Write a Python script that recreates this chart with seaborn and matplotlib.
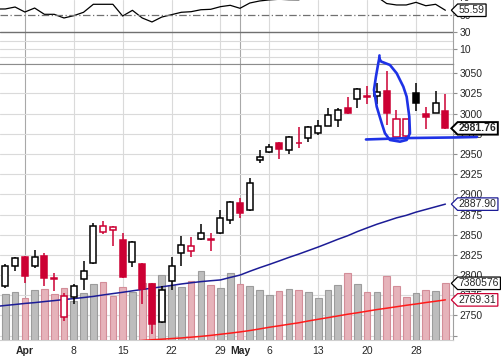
import numpy as np
import pandas as pd
import matplotlib
matplotlib.use("Agg")
import matplotlib.pyplot as plt
from matplotlib.path import Path
import seaborn as sns

# trading days on screen (Memorial Day closed)
dates = pd.bdate_range("2019-03-28", "2019-05-31").drop(pd.Timestamp("2019-05-27"))

opens = [2786.5, 2811.3, 2822.5, 2810.9, 2823.3, 2795.8, 2748.1, 2772.9, 2794.8, 2814.6,
         2853.0, 2856.3, 2843.5, 2816.6, 2813.4, 2789.0, 2741.6, 2792.7, 2827.0, 2829.9,
         2844.4, 2844.8, 2851.8, 2868.3, 2889.0, 2880.7, 2942.0, 2951.9, 2963.3, 2954.6,
         2963.9, 2969.5, 2975.7, 2984.3, 2991.8, 3007.0, 3018.5, 3021.5, 3021.9, 3028.1,
         2970.7, 2972.7, 3025.2, 2999.6, 3000.5, 3003.3]
highs = [2813.8, 2822.5, 2823.7, 2831.5, 2827.0, 2802.6, 2777.9, 2788.4, 2817.5, 2864.6,
         2867.0, 2860.2, 2851.8, 2842.3, 2815.0, 2790.2, 2786.5, 2822.8, 2848.5, 2846.9,
         2863.3, 2851.8, 2880.7, 2891.8, 2895.9, 2919.9, 2955.0, 2962.2, 2964.9, 2972.6,
         2983.5, 2985.3, 2992.2, 3007.4, 3006.7, 3020.6, 3031.2, 3034.6, 3037.6, 3052.9,
         3004.5, 2993.0, 3038.4, 3007.6, 3028.1, 3024.4]
lows = [2784.0, 2805.5, 2789.9, 2808.5, 2786.9, 2780.3, 2742.6, 2763.9, 2781.0, 2813.2,
        2850.6, 2836.4, 2796.8, 2810.4, 2764.2, 2727.1, 2740.7, 2781.2, 2811.7, 2822.8,
        2842.9, 2830.3, 2850.9, 2863.0, 2871.1, 2880.0, 2939.3, 2950.7, 2943.8, 2949.4,
        2957.8, 2965.3, 2973.9, 2984.1, 2983.9, 2999.0, 3006.6, 3011.6, 3011.6, 2985.9,
        2970.5, 2970.5, 3003.7, 2981.0, 3000.2, 2980.5]
closes = [2811.3, 2820.8, 2798.5, 2822.1, 2796.1, 2795.2, 2774.1, 2785.9, 2805.5, 2861.2,
          2860.8, 2859.4, 2798.0, 2840.7, 2782.8, 2739.8, 2781.2, 2811.7, 2837.3, 2836.3,
          2851.8, 2844.0, 2870.4, 2890.2, 2876.6, 2913.7, 2946.9, 2958.3, 2955.9, 2970.7,
          2963.3, 2983.1, 2984.7, 2998.0, 3004.2, 3000.2, 3030.2, 3020.8, 3027.2, 3000.5,
          2993.0, 2992.8, 3012.8, 2996.2, 3012.8, 2981.76]
prev_close = 2805.0  # close of the day before the first bar

volume = [5990000, 6250000, 5470000, 6510000, 6640000, 5990000, 6770000, 5140000, 6120000, 7290000,
          7550000, 5730000, 6900000, 6250000, 7420000, 7420000, 8460000, 7160000, 6900000, 7680000,
          8980000, 7160000, 6730000, 8680000, 7290000, 7030000, 6510000, 5860000, 6380000, 6640000,
          6510000, 6250000, 5470000, 6510000, 7120000, 8680000, 7250000, 6210000, 6250000, 8290000,
          7000000, 5600000, 6080000, 6510000, 6380000, 7380576]

# indicator series start one day before the first visible bar
ma50 = [2761.1, 2762.4, 2763.6, 2764.9, 2765.9, 2767.2, 2768.4, 2769.7, 2770.9, 2772.2, 2773.6,
        2775.4, 2777.1, 2778.7, 2780.5, 2782.2, 2783.8, 2785.5, 2787.2, 2789.0, 2790.5,
        2791.9, 2793.0, 2794.0, 2797.1, 2800.0, 2804.7, 2809.1, 2813.2, 2817.5, 2821.9,
        2826.0, 2830.4, 2834.8, 2839.5, 2844.3, 2848.7, 2853.9, 2858.5, 2863.0, 2866.9,
        2870.9, 2874.0, 2878.0, 2881.3, 2884.6, 2887.90]
ma200 = [2707.0, 2707.8, 2708.6, 2709.4, 2710.2, 2711.0, 2711.8, 2712.6, 2713.4, 2714.2, 2715.0,
         2715.8, 2716.6, 2717.4, 2718.2, 2719.0, 2719.9, 2720.6, 2721.4, 2722.1, 2723.1,
         2724.1, 2725.3, 2726.7, 2728.1, 2729.6, 2731.3, 2733.3, 2735.4, 2737.2, 2739.1,
         2740.9, 2743.2, 2745.3, 2747.3, 2749.4, 2751.5, 2753.3, 2755.3, 2757.3, 2759.0,
         2760.8, 2762.6, 2764.2, 2766.0, 2767.6, 2769.31]
rsi = [57.0, 57.1, 59.4, 53.5, 58.2, 50.8, 50.8, 46.5, 49.2, 53.2, 62.6,
       62.6, 62.6, 48.8, 55.5, 46.5, 41.8, 47.6, 50.4, 53.2, 53.9,
       56.2, 56.7, 59.8, 61.4, 57.9, 64.1, 66.5, 67.8, 68.5, 68.0,
       67.9, 72.0, 74.0, 76.0, 77.0, 74.0, 77.0, 75.0, 71.4, 63.5,
       61.8, 61.8, 64.9, 60.9, 62.6, 55.59]

# hand drawn marks (bar index, price)
loop_x = [38.26, 38.24, 38.42, 39.33, 40.02, 40.70, 41.04, 41.31, 41.38, 41.04, 40.36,
          39.33, 38.82, 38.49, 37.98, 37.70, 37.90, 38.14, 38.24]
loop_p = [3072.1, 3068.6, 3064.6, 3060.3, 3050.0, 3033.4, 3021.0, 2996.2, 2975.7, 2967.4, 2965.3,
          2967.4, 2975.7, 2988.1, 3008.6, 3029.3, 3045.8, 3062.4, 3068.6]
base_x = [36.88, 41.38, 45.98, 48.23]
base_p = [2968.0, 2969.8, 2970.5, 2971.1]

RED = "#cc0033"
BLUE_MA = "#1c1c96"
RED_MA = "#ff1a1a"
PEN = "#1e32e6"

sns.set_style("white")
plt.rcParams['font.family'] = ['Liberation Sans', 'DejaVu Sans']

x = np.arange(len(closes))
xi = np.arange(-1, len(closes))
o = np.array(opens)
c = np.array(closes)
prev = np.concatenate([[prev_close], c[:-1]])
up_day = c >= prev
edge = np.where(up_day, "black", RED)
face = np.where(c > o, "white", edge)
vol_face = np.where(up_day, "#bdbdbd", "#e6b3ba")
vol_edge = np.where(up_day, "#9c9c9c", "#d38d98")

W, H = 502, 356
fig = plt.figure(figsize=(W / 100, H / 100), dpi=100)
ax_rsi = fig.add_axes([0, (H - 63.5) / H, 453 / W, 63.5 / H])
ax = fig.add_axes([0, (H - 340) / H, 453 / W, 276.5 / H])
ax_vol = ax.twinx()
ax_top = ax.twinx()

# week / month separators
tick_pos, tick_lab, month_start = [], [], []
for i in range(1, len(dates)):
    d, p = dates[i], dates[i - 1]
    if d.month != p.month:
        tick_pos.append(i); tick_lab.append(d.strftime("%b")); month_start.append(True)
    elif d.isocalendar().week != p.isocalendar().week:
        tick_pos.append(i); tick_lab.append(str(d.day)); month_start.append(False)

for a in (ax, ax_rsi):
    for pos, m in zip(tick_pos, month_start):
        a.axvline(pos, color="#a8a8a8" if m else "#dadada", lw=0.8, zorder=0.5)

# RSI panel
sns.lineplot(x=xi, y=rsi, ax=ax_rsi, color="black", lw=0.9)
for lvl in (0, 10, 20):
    ax_rsi.axhline(lvl, color="#dadada", lw=0.8, zorder=0.5)
ax_rsi.axhline(30, color="#707070", lw=1.0)
ax_rsi.axhline(70, color="#707070", lw=1.0)
ax_rsi.axhline(50, color="#707070", lw=0.9, ls=(0, (6, 2, 1, 2)))
ax_rsi.set_ylim(-7.06, 67.65)
ax_rsi.set_yticks([10, 30, 50])
ax_rsi.yaxis.tick_right()
ax_rsi.tick_params(axis='y', length=3, pad=1.5, labelsize=7.5, color="#909090")
ax_rsi.text(1.0, 70, "70", transform=ax_rsi.get_yaxis_transform(), fontsize=7.5,
            va="center", ha="left", clip_on=False).set_x(1.0 + 5.5 / 453)
ax_rsi.set_xticks([])
ax_rsi.set_xlabel(""); ax_rsi.set_ylabel("")

# volume
ax_vol.bar(x, volume, width=0.68, color=vol_face, edgecolor=vol_edge, lw=0.8)
ax_vol.set_ylim(0, 7380576 * 276.5 / 56.7)
ax_vol.axis("off")

# candles and averages
sns.lineplot(x=xi, y=ma50, ax=ax_top, color=BLUE_MA, lw=1.1, zorder=1.5)
sns.lineplot(x=xi, y=ma200, ax=ax_top, color=RED_MA, lw=1.1, zorder=1.5)
ax_top.vlines(x, lows, highs, colors=edge, lw=1.1, zorder=2)
ax_top.bar(x, np.abs(c - o), bottom=np.minimum(o, c), width=0.62, color=face,
           edgecolor=edge, lw=1.1, zorder=3)
ax_top.plot(loop_x, loop_p, color=PEN, lw=1.9, clip_on=False, zorder=6,
            solid_capstyle="round", solid_joinstyle="round")
ax_top.plot(base_x, base_p, color=PEN, lw=1.9, clip_on=False, zorder=6,
            solid_capstyle="round")
ax_top.axis("off")

# price axis
ax.set_yticks(range(2725, 3051, 25))
ax.set_yticklabels([""] + [str(v) for v in range(2750, 3051, 25)])
ax.yaxis.tick_right()
ax.tick_params(axis='y', length=3, pad=1.5, labelsize=7.5, color="#909090")
ax.grid(axis='y', color="#dadada", lw=0.8)
ax.set_xticks(tick_pos, tick_lab)
ax.tick_params(axis='x', length=3, pad=1, labelsize=7.5, color="#b0b0b0")
for lab, m in zip(ax.get_xticklabels(), month_start):
    if m:
        lab.set_fontweight("bold")

for a in (ax, ax_rsi):
    a.spines["left"].set_visible(False)
    a.spines["right"].set_color("#a0a0a0")
    a.spines["right"].set_linewidth(0.8)
ax.spines["top"].set_color("#8c8c8c")
ax.spines["bottom"].set_color("#cfcfcf")
ax_rsi.spines["top"].set_visible(False)
ax_rsi.spines["bottom"].set_color("#8c8c8c")

for a in (ax, ax_top, ax_vol, ax_rsi):
    a.set_xlim(-0.542, 45.78)
ax.set_ylim(2719.6, 3062.1)
ax_top.set_ylim(2719.6, 3062.1)


def tag_box(x0, y0, width, height, mutation_size):
    pad = 0.12 * mutation_size
    x0, y0 = x0 - pad, y0 - pad
    x1, y1 = x0 + width + 2 * pad, y0 + height + 2 * pad
    tip = (y1 - y0) / 2
    ym = (y0 + y1) / 2
    return Path([(x0 - tip, ym), (x0, y0), (x1, y0), (x1, y1), (x0, y1), (x0 - tip, ym)],
                closed=True)


def tag(a, value, text, color, bold=False, lw=0.9):
    a.annotate(text, xy=(1, value), xycoords=a.get_yaxis_transform(),
               xytext=(4.2, 0), textcoords="offset points", ha="left", va="center",
               fontsize=7.5, fontweight="bold" if bold else "normal",
               bbox=dict(boxstyle=tag_box, fc="white", ec=color, lw=lw),
               annotation_clip=False, zorder=10)


tag(ax_rsi, rsi[-1], f"{rsi[-1]:.2f}", "black")
tag(ax_vol, volume[-1], f"{volume[-1]}", "black")
tag(ax_top, ma50[-1], f"{ma50[-1]:.2f}", BLUE_MA)
tag(ax_top, ma200[-1], f"{ma200[-1]:.2f}", RED)
tag(ax_top, closes[-1], f"{closes[-1]:.2f}", "black", bold=True, lw=1.4)

fig.savefig("out.png", dpi=100)
